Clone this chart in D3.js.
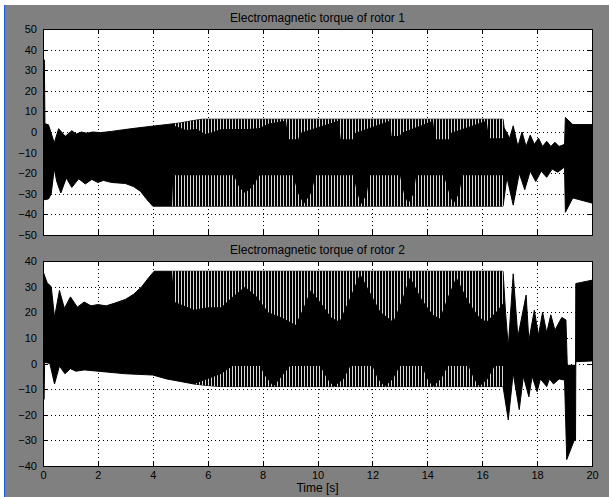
<!DOCTYPE html>
<html>
<head>
<meta charset="utf-8">
<script src="https://cdn.jsdelivr.net/npm/d3@7"></script>
<style>
  body { margin: 0; background: #fff; }
  svg text { font-family: "Liberation Sans", Arial, sans-serif; font-size: 11px; fill: #000; }
</style>
</head>
<body>
<div id="chart"></div>
<script>
// scope data: [time s, torque]
var titles = ["Electromagnetic torque of rotor 1", "Electromagnetic torque of rotor 2"];
var xLabel = "Time [s]";
var xTicks = [0, 2, 4, 6, 8, 10, 12, 14, 16, 18, 20];
var yTicks1 = [-50, -40, -30, -20, -10, 0, 10, 20, 30, 40, 50];
var yTicks2 = [-40, -30, -20, -10, 0, 10, 20, 30, 40];

// rotor 1: outer envelope of the oscillation
var rotor1Max = [[0,35],[0.05,35],[0.07,4],[0.2,3.5],[0.41,-5.3],[0.57,1.6],[0.81,-2.1],[1.05,0.6],[1.21,-1],
  [1.4,0],[1.6,-0.6],[1.8,0],[2.1,-0.3],[2.5,0.3],[2.93,1.1],[3.4,1.9],[3.9,2.7],[4.5,3.6],[5.0,4.4],[5.5,5.6],
  [5.8,6.2],[16.76,6.2],[16.8,2],[17.0,-3],[17.13,3],[17.3,-7],[17.45,0],[17.6,-7],[17.75,-1.5],[17.9,-6],
  [18.05,-3],[18.2,-7],[18.35,-4.5],[18.5,-7],[18.65,-5],[18.8,-7],[19.0,-6],[19.03,7],[19.3,3.6],[20,3.6]];
var rotor1Min = [[0,-33],[0.2,-32.5],[0.3,-30],[0.41,-17.8],[0.5,-24],[0.65,-29.6],[0.85,-22.3],[1.05,-26.9],
  [1.3,-22.7],[1.54,-25.2],[1.78,-23],[2.0,-24.5],[2.2,-23.5],[2.5,-24.5],[3.0,-25],[3.3,-26.5],[3.55,-28.8],
  [3.8,-33],[4.0,-36],[16.76,-36],[16.9,-22],[17.13,-35.5],[17.35,-20],[17.55,-28],[17.75,-19],[17.95,-24],
  [18.15,-19],[18.35,-22],[18.55,-18],[18.75,-19.5],[19.0,-17],[19.03,-39],[19.3,-32],[20,-34.5]];
// rotor 1: edges of the solid part (striped between these and the envelope)
var rotor1UpperSolid = [[4.6,6],[4.8,3],[5.2,1],[5.6,1.5],[5.9,-1],[6.2,0],[6.5,1.5],[7.0,1.5],[7.5,1.5],
  [7.9,2],[8.2,4],[8.6,5],[8.85,5.5],[8.95,-3.5],[9.3,-3.5],[9.36,-0.5],[10.76,5.5],[10.85,-3.5],[11.3,-3.5],
  [11.37,-0.5],[12.64,5.5],[12.7,-2],[13.0,-2],[13.05,-0.5],[14.21,5.5],[14.3,-3.5],[14.8,-3.5],[14.85,-0.5],
  [16.16,5.5],[16.25,-3],[16.76,-3]];
var rotor1LowerSolid = [[4.7,-36],[4.75,-21],[6.95,-21],[7.15,-27],[7.36,-29.6],[7.6,-27],[7.9,-21],[9.1,-21],
  [9.3,-30],[9.5,-35],[9.75,-30],[9.95,-21],[11.3,-21],[11.45,-30],[11.6,-35],[11.8,-30],[11.9,-21],[13.0,-21],
  [13.15,-30],[13.3,-35],[13.5,-30],[13.6,-21],[14.6,-21],[14.8,-30],[14.95,-35],[15.15,-30],[15.3,-21],[16.76,-21]];

// rotor 2
var rotor2Max = [[0,36],[0.15,31.5],[0.3,30],[0.42,18],[0.6,28.5],[0.78,21.5],[1.0,26],[1.25,22],[1.5,24],
  [1.75,22.5],[2.0,23],[2.3,22.5],[2.6,23.5],[3.0,25],[3.3,27],[3.6,30],[3.85,33.5],[4.05,36],[16.76,36],
  [16.85,20],[16.95,6.5],[17.13,35],[17.3,10.4],[17.6,26.7],[17.7,9],[17.9,20.8],[18.05,11],[18.2,20],
  [18.35,12],[18.5,19],[18.65,13],[18.9,18],[19.05,17],[19.1,-0.7],[19.4,-0.7],[19.41,31.2],[20,32.5]];
var rotor2Min = [[0,-14],[0.04,-14],[0.06,0.5],[0.25,0],[0.42,-8],[0.6,-1],[0.8,-4],[1.0,-2],[1.2,-3],
  [1.5,-2.5],[2.0,-3],[3.0,-4],[4.0,-4.5],[4.5,-6],[5.0,-7],[5.5,-8],[6.0,-8.6],[6.5,-9],[16.76,-9],
  [16.95,-22],[17.13,-3.8],[17.35,-18],[17.5,-5],[17.7,-13],[17.82,-5],[18.0,-11],[18.12,-6],[18.35,-9],
  [18.45,-6],[18.6,-8],[18.8,-6],[19.0,-6.5],[19.08,-37.5],[19.35,-30],[19.4,-30],[19.41,0.7],[20,1]];
var rotor2UpperSolid = [[4.7,36],[4.8,24],[5.5,21],[6.0,22],[6.5,22],[6.9,26],[7.36,30],[7.8,26],[8.2,20],
  [8.7,18],[9.2,15],[9.5,22],[9.75,28.6],[10.1,24],[10.5,18],[10.8,16.3],[11.2,26],[11.55,35],[11.9,28],
  [12.3,20],[12.76,16.3],[13.05,24],[13.37,33.8],[13.8,25],[14.2,19],[14.46,17.6],[14.75,26],[15.06,33.8],
  [15.5,24],[15.9,18],[16.16,16.3],[16.5,20],[16.76,23.5]];
var rotor2LowerSolid = [[4.9,-9],[5.5,-8],[6.0,-6],[6.5,-4],[6.9,-1],[7.9,-1],[8.1,-5],[8.4,-9],[8.7,-5],
  [9.0,-1],[10.1,-1],[10.35,-6],[10.6,-9],[10.95,-6],[11.2,-1],[12.0,-1],[12.2,-6],[12.45,-9],[12.75,-6],
  [13.0,-1],[13.8,-1],[14.0,-6],[14.2,-9],[14.5,-6],[14.75,-1],[15.5,-1],[15.7,-6],[15.9,-9],[16.2,-6],
  [16.45,-1],[16.76,-1]];

var fullWidth = 609, fullHeight = 497;
var left = 43, right = 592;

var svg = d3.select('#chart').append('svg')
  .attr('width', fullWidth)
  .attr('height', fullHeight);

// window chrome: grey figure, white strips, blue edge
svg.append('rect').attr('width', fullWidth).attr('height', fullHeight).attr('fill', '#808080');
svg.append('rect').attr('width', fullWidth).attr('height', 5).attr('fill', '#fff');
svg.append('rect').attr('y', 0).attr('width', 4).attr('height', fullHeight).attr('fill', '#fff');
svg.append('rect').attr('x', 4).attr('y', 5).attr('width', 1).attr('height', fullHeight - 5).attr('fill', '#1a5be6');

var defs = svg.append('defs');
var pat = defs.append('pattern')
  .attr('id', 'stripes')
  .attr('patternUnits', 'userSpaceOnUse')
  .attr('width', 3).attr('height', 10);
pat.append('rect').attr('width', 1).attr('height', 10).attr('fill', '#d8d8d8');

var panels = [
  {title: titles[0], top: 29, bottom: 235, domain: [-50, 50], ticks: yTicks1,
   max: rotor1Max, min: rotor1Min, upper: rotor1UpperSolid, lower: rotor1LowerSolid, labels: false},
  {title: titles[1], top: 261, bottom: 466, domain: [-40, 40], ticks: yTicks2,
   max: rotor2Max, min: rotor2Min, upper: rotor2UpperSolid, lower: rotor2LowerSolid, labels: true}
];

panels.forEach(function(p, i) {
  var width = right - left;
  var height = p.bottom - p.top;

  var x = d3.scaleLinear().domain([0, 20]).range([0, width]);
  var y = d3.scaleLinear().domain(p.domain).range([height, 0]);

  var g = svg.append('g').attr('transform', 'translate(' + left + ',' + p.top + ')');

  g.append('rect').attr('width', width).attr('height', height).attr('fill', '#fff');

  // dotted grid
  g.append('g').selectAll('line').data(xTicks.slice(1, -1)).join('line')
    .attr('x1', d => Math.round(x(d)) + 0.5).attr('x2', d => Math.round(x(d)) + 0.5)
    .attr('y1', 0).attr('y2', height)
    .attr('stroke', '#000').attr('stroke-dasharray', '1,3');
  g.append('g').selectAll('line').data(p.ticks.slice(1, -1)).join('line')
    .attr('y1', d => Math.round(y(d)) + 0.5).attr('y2', d => Math.round(y(d)) + 0.5)
    .attr('x1', 0).attr('x2', width)
    .attr('stroke', '#000').attr('stroke-dasharray', '1,3');

  var clipId = 'clip' + i, envId = 'env' + i;
  defs.append('clipPath').attr('id', clipId)
    .append('rect').attr('width', width).attr('height', height);

  var line = d3.line().x(d => x(d[0])).y(d => y(d[1]));
  var envPath = line(p.max.concat(p.min.slice().reverse())) + 'Z';
  defs.append('clipPath').attr('id', envId).append('path').attr('d', envPath);

  var plot = g.append('g').attr('clip-path', 'url(#' + clipId + ')');
  plot.append('path')
    .attr('d', envPath)
    .attr('fill', '#000')
    .attr('stroke', '#000')
    .attr('stroke-width', 1);

  // striped bands between solid core and envelope
  var bands = plot.append('g').attr('clip-path', 'url(#' + envId + ')');
  bands.append('path')
    .attr('d', d3.area().x(d => x(d[0])).y0(0).y1(d => y(d[1]))(p.upper))
    .attr('fill', 'url(#stripes)');
  bands.append('path')
    .attr('d', d3.area().x(d => x(d[0])).y0(height).y1(d => y(d[1]))(p.lower))
    .attr('fill', 'url(#stripes)');

  // axes with inward ticks
  var ax = g.append('g').attr('shape-rendering', 'crispEdges');
  ax.append('g').call(d3.axisLeft(y).tickValues(p.ticks).tickSizeInner(-5).tickSizeOuter(0).tickPadding(6));
  ax.append('g').attr('transform', 'translate(' + width + ',0)')
    .call(d3.axisRight(y).tickValues(p.ticks).tickSizeInner(-5).tickSizeOuter(0).tickFormat(''));
  ax.append('g')
    .call(d3.axisTop(x).tickValues(xTicks).tickSizeInner(-5).tickSizeOuter(0).tickFormat(''));
  var bottomAxis = d3.axisBottom(x).tickValues(xTicks).tickSizeInner(-5).tickSizeOuter(0).tickPadding(5);
  if (!p.labels) bottomAxis.tickFormat('');
  ax.append('g').attr('transform', 'translate(0,' + height + ')').call(bottomAxis);
  ax.selectAll('.domain').attr('stroke', '#000');
  ax.selectAll('.tick line').attr('stroke', '#000');
  ax.selectAll('text').attr('font-size', 11).attr('font-family', '"Liberation Sans", Arial, sans-serif');

  svg.append('text')
    .attr('x', left + width / 2).attr('y', p.top - 7)
    .attr('text-anchor', 'middle')
    .style('font-size', '12px')
    .text(p.title);
});

svg.append('text')
  .attr('x', (left + right) / 2).attr('y', 492)
  .attr('text-anchor', 'middle')
  .style('font-size', '12px')
  .text(xLabel);
</script>
</body>
</html>
